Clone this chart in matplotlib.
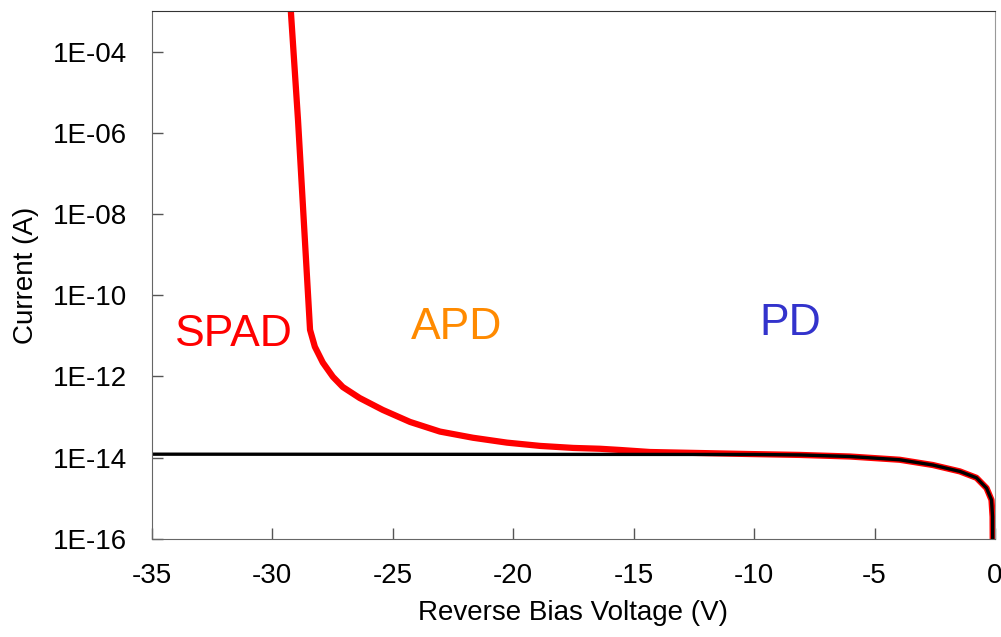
import matplotlib.pyplot as plt
import numpy as np
from matplotlib.ticker import FuncFormatter

plt.rcParams['font.family'] = ['Liberation Sans', 'DejaVu Sans']
plt.rcParams['axes.unicode_minus'] = False

# Red curve (SPAD / APD breakdown)
spad_v = [-29.28, -28.93, -28.43, -28.23, -27.90, -27.48, -27.07, -26.37, -25.41,
          -24.28, -23.04, -21.67, -20.26, -18.88, -17.51, -16.40, -15.57, -14.32,
          -10.17, -8.11, -6.03, -3.96, -2.58, -1.46, -0.77, -0.35, -0.145, -0.10, -0.09]
spad_i = [3e-3, 2.1e-6, 1.41e-11, 5.4e-12, 2.2e-12, 9.8e-13, 5.5e-13, 2.95e-13, 1.5e-13,
          7.6e-14, 4.4e-14, 3.1e-14, 2.35e-14, 1.95e-14, 1.74e-14, 1.66e-14, 1.55e-14, 1.38e-14,
          1.23e-14, 1.17e-14, 1.07e-14, 8.9e-15, 6.6e-15, 4.6e-15, 3.2e-15, 1.78e-15, 9.1e-16,
          3.5e-16, 3e-17]

# Black curve (PD dark current)
pd_v = [-35, -10.0, -8.11, -6.03, -3.96, -2.58, -1.46, -0.77, -0.35, -0.145, -0.10, -0.09]
pd_i = [1.22e-14, 1.2e-14, 1.17e-14, 1.07e-14, 8.9e-15, 6.6e-15, 4.6e-15, 3.2e-15, 1.78e-15,
        9.1e-16, 3.5e-16, 3e-17]

region_labels = ['SPAD', 'APD', 'PD']
region_x = [-31.58, -22.33, -8.51]
region_y = [1.1e-11, 1.65e-11, 2.0e-11]
region_colors = ['#FF0000', '#FF8A00', '#3333CC']

fig = plt.figure(figsize=(10.01, 6.37), dpi=100)
ax = fig.add_axes([0.1516, 0.154, 0.994 - 0.1516, 0.9827 - 0.154])

ax.plot(spad_v, spad_i, color='#FF0000', linewidth=4.5, solid_joinstyle='round')
ax.plot(pd_v, pd_i, color='black', linewidth=2.4, solid_joinstyle='round')

for lab, x, y, c in zip(region_labels, region_x, region_y, region_colors):
    ax.text(x, y, lab, color=c, fontsize=32, ha='center', va='center')

ax.set_yscale('log')
ax.set_xlim(-35, 0)
ax.set_ylim(1e-16, 1e-3)
ax.set_xticks(np.arange(-35, 1, 5))
ax.set_yticks([10.0 ** e for e in range(-16, -3, 2)])
ax.yaxis.set_minor_locator(plt.NullLocator())
ax.yaxis.set_major_formatter(FuncFormatter(lambda v, p: f"1E-{-int(round(np.log10(v))):02d}"))

ax.tick_params(axis='both', direction='in', length=8, width=1, color='#555555', labelsize=20)
ax.tick_params(axis='x', pad=17)
ax.tick_params(axis='y', pad=18)

ax.spines['left'].set_color('#666666')
ax.spines['bottom'].set_color('#666666')
ax.spines['top'].set_color('#333333')
ax.spines['right'].set_color('#999999')

ax.set_xlabel('Reverse Bias Voltage (V)', fontsize=20, labelpad=8)
ax.set_ylabel('Current (A)', fontsize=20, labelpad=10)

fig.savefig('out.png', dpi=100)
